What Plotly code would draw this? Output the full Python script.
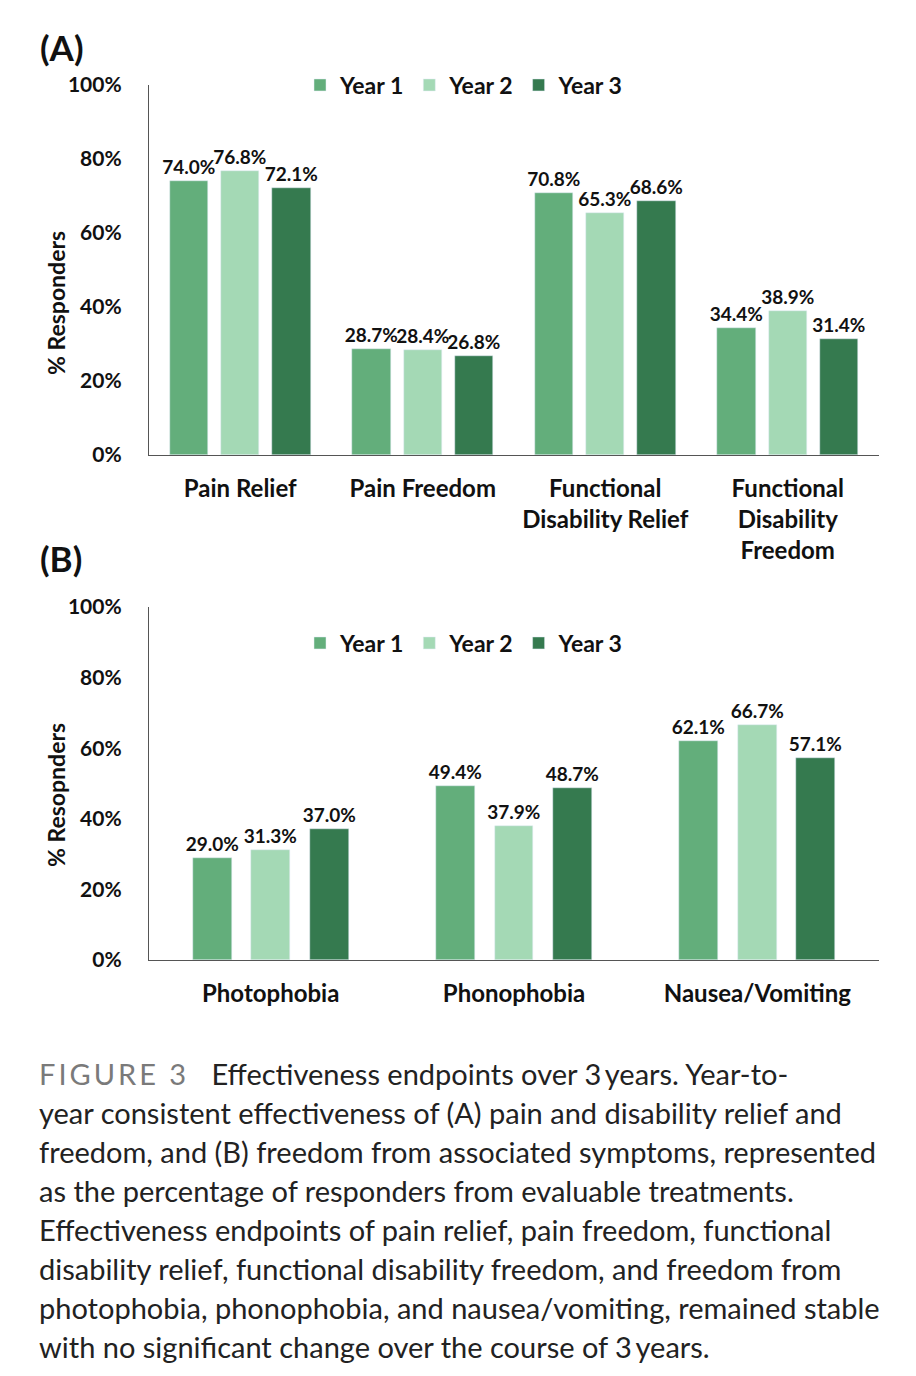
import plotly.graph_objects as go

# ---------------- data ----------------
years = ["Year 1", "Year 2", "Year 3"]
colors = ["#63ae7b", "#a4d9b5", "#357a4f"]

cats_a = ["Pain Relief", "Pain Freedom", "Functional<br>Disability Relief", "Functional<br>Disability<br>Freedom"]
vals_a = {
    "Year 1": [74.0, 28.7, 70.8, 34.4],
    "Year 2": [76.8, 28.4, 65.3, 38.9],
    "Year 3": [72.1, 26.8, 68.6, 31.4],
}

cats_b = ["Photophobia", "Phonophobia", "Nausea/Vomiting"]
vals_b = {
    "Year 1": [29.0, 49.4, 62.1],
    "Year 2": [31.3, 37.9, 66.7],
    "Year 3": [37.0, 48.7, 57.1],
}

yticks = [0, 20, 40, 60, 80, 100]
ytick_text = ["0%", "20%", "40%", "60%", "80%", "100%"]
caption_lines = [
    "<span style='color:#7a7a7a;letter-spacing:3px'>FIGURE 3</span>   Effectiveness endpoints over 3\u2009years. Year-to-",
    "year consistent effectiveness of (A) pain and disability relief and",
    "freedom, and (B) freedom from associated symptoms, represented",
    "as the percentage of responders from evaluable treatments.",
    "Effectiveness endpoints of pain relief, pain freedom, functional",
    "disability relief, functional disability freedom, and freedom from",
    "photophobia, phonophobia, and nausea/vomiting, remained stable",
    "with no significant change over the course of 3\u2009years.",
]

W, H = 916, 1376
FONT = "Lato"
DARK = "#111111"


def py(px):
    return 1 - px / H


def pxx(px):
    return px / W


fig = go.Figure()

# panel A bars
wa, sa = 0.21, 0.28
for i, yr in enumerate(years):
    fig.add_trace(go.Bar(
        x=cats_a, y=vals_a[yr], name=yr, marker_color=colors[i],
        width=wa, offset=-wa / 2 + (i - 1) * sa,
        texttemplate="%{y:.1f}%", textposition="outside", constraintext="none",
        textfont=dict(family=FONT, size=19, color=DARK, weight="bold"),
        cliponaxis=False, xaxis="x", yaxis="y", legend="legend",
    ))

# panel B bars
wb, sb = 0.16, 0.24
for i, yr in enumerate(years):
    fig.add_trace(go.Bar(
        x=cats_b, y=vals_b[yr], name=yr, marker_color=colors[i],
        width=wb, offset=-wb / 2 + (i - 1) * sb,
        texttemplate="%{y:.1f}%", textposition="outside", constraintext="none",
        textfont=dict(family=FONT, size=19, color=DARK, weight="bold"),
        cliponaxis=False, xaxis="x2", yaxis="y2", legend="legend2",
    ))

xdom = [pxx(149), pxx(879)]
common_y = dict(range=[0, 100], tickmode="array", tickvals=yticks, ticktext=ytick_text,
                showgrid=False, showline=True, linecolor="#555555", linewidth=1.2, ticks="",
                tickfont=dict(family=FONT, size=21, color=DARK, weight="bold"),
                ticklabelstandoff=22, zeroline=False, automargin=False)
common_x = dict(showgrid=False, showline=True, linecolor="#555555", linewidth=1.2,
                ticks="", tickfont=dict(family=FONT, size=24, color=DARK, weight="bold"),
                ticklabelstandoff=12, automargin=False)
legfont = dict(family=FONT, size=23, color=DARK, weight="bold")

fig.update_layout(
    width=W, height=H, margin=dict(l=0, r=0, t=0, b=0, autoexpand=False),
    paper_bgcolor="white", plot_bgcolor="white",
    barmode="overlay", uniformtext=dict(mode=False), bargap=0,
    xaxis=dict(domain=xdom, anchor="y", **common_x),
    yaxis=dict(domain=[py(455), py(85)], anchor="x", **common_y),
    xaxis2=dict(domain=xdom, anchor="y2", **common_x),
    yaxis2=dict(domain=[py(960), py(607)], anchor="x2", **common_y),
    legend=dict(orientation="h", x=pxx(300), y=py(85), yanchor="middle", xanchor="left",
                font=legfont, bgcolor="rgba(0,0,0,0)", itemwidth=30, traceorder="normal"),
    legend2=dict(orientation="h", x=pxx(300), y=py(643), yanchor="middle", xanchor="left",
                 font=legfont, bgcolor="rgba(0,0,0,0)", itemwidth=30, traceorder="normal"),
    showlegend=True,
)

ann = []
for lbl, ypx in [("(A)", 47), ("(B)", 558)]:
    ann.append(dict(text=lbl, x=pxx(38), y=py(ypx), xref="paper", yref="paper",
                    xanchor="left", yanchor="middle", showarrow=False,
                    font=dict(family=FONT, size=35, color=DARK, weight="bold")))
for lbl, ypx in [("% Responders", 303), ("% Resopnders", 795)]:
    ann.append(dict(text=lbl, x=pxx(56), y=py(ypx), xref="paper", yref="paper",
                    textangle=-90, showarrow=False, xanchor="center", yanchor="middle",
                    font=dict(family=FONT, size=23, color=DARK, weight="bold")))
for k, line in enumerate(caption_lines):
    ann.append(dict(text=line, x=pxx(37), y=py(1073 + 39 * k), xref="paper", yref="paper",
                    xanchor="left", yanchor="middle", showarrow=False, align="left",
                    font=dict(family=FONT, size=29, color="#222222")))
fig.update_layout(annotations=ann)

fig.write_html("out.html", config={"displayModeBar": False},
               post_script="document.body.style.margin='0';document.body.style.overflow='hidden';")
